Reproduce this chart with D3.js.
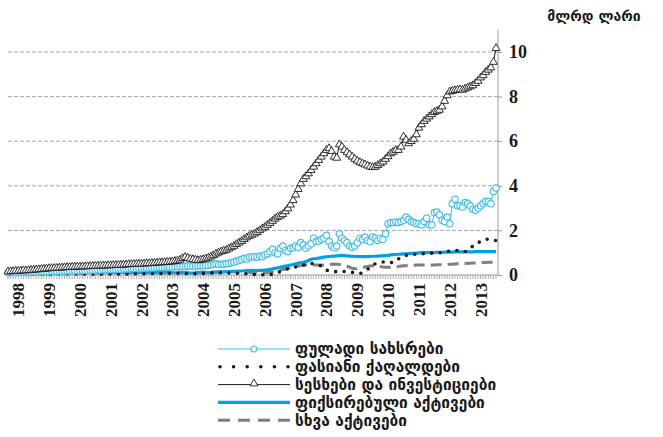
<!DOCTYPE html>
<html><head><meta charset="utf-8">
<script src="https://cdn.jsdelivr.net/npm/d3@7"></script>
<style>body{margin:0;background:#fff}</style>
</head><body><svg id="c" width="663" height="437"></svg>
<script>
const yearLabels = ["1998","1999","2000","2001","2002","2003","2004","2005","2006","2007","2008","2009","2010","2011","2012","2013"];
const yTicks = [0,2,4,6,8,10];
const unitLabel = "მლრდ ლარი";
const seriesNames = ["ფულადი სახსრები","ფასიანი ქაღალდები","სესხები და ინვესტიციები","ფიქსირებული აქტივები","სხვა აქტივები"];

// monthly values, Jan 1998 onward (billion GEL)
const cash = [
0.1,0.1,0.11,0.11,0.12,0.12,0.12,0.13,0.13,0.13,0.14,0.14,
0.14,0.15,0.15,0.15,0.16,0.16,0.16,0.17,0.17,0.17,0.18,0.18,
0.18,0.19,0.19,0.19,0.2,0.2,0.2,0.21,0.21,0.22,0.22,0.23,
0.22,0.23,0.23,0.24,0.24,0.25,0.25,0.26,0.26,0.27,0.27,0.28,
0.28,0.29,0.29,0.3,0.3,0.31,0.31,0.32,0.32,0.33,0.34,0.35,
0.34,0.35,0.35,0.36,0.36,0.37,0.37,0.38,0.38,0.39,0.4,0.41,
0.4,0.4,0.41,0.41,0.42,0.43,0.44,0.46,0.48,0.5,0.47,0.48,
0.48,0.5,0.52,0.55,0.58,0.62,0.66,0.7,0.75,0.72,0.8,0.82,
0.82,0.8,0.85,0.82,0.9,0.95,1.05,1.15,1.0,0.95,1.2,1.3,
1.1,1.05,1.2,1.22,1.3,1.25,1.45,1.35,1.2,1.3,1.4,1.65,
1.5,1.52,1.6,1.65,1.78,1.5,1.3,1.22,1.3,1.85,1.65,1.55,
1.45,1.3,1.25,1.3,1.45,1.65,1.6,1.7,1.55,1.5,1.7,1.65,
1.55,1.65,1.6,1.85,2.3,2.35,2.35,2.38,2.35,2.4,2.45,2.6,
2.5,2.4,2.35,2.3,2.3,2.25,2.4,2.55,2.25,2.25,2.8,2.82,
2.7,2.45,2.4,2.6,2.3,3.2,3.4,3.1,3.1,3.05,3.25,3.2,
3.1,2.95,2.9,3.0,3.1,3.2,3.3,3.3,3.2,3.75,3.9];
const securities = [
0.02,0.02,0.02,0.03,0.03,0.03,0.03,0.03,0.03,0.03,0.04,0.04,
0.04,0.04,0.04,0.04,0.04,0.04,0.05,0.05,0.05,0.05,0.05,0.05,
0.05,0.05,0.05,0.05,0.05,0.05,0.05,0.05,0.05,0.05,0.05,0.05,
0.05,0.05,0.05,0.05,0.05,0.05,0.05,0.05,0.05,0.05,0.05,0.05,
0.05,0.05,0.06,0.06,0.06,0.06,0.06,0.06,0.07,0.07,0.07,0.07,
0.07,0.07,0.07,0.08,0.08,0.08,0.08,0.07,0.07,0.07,0.06,0.06,
0.06,0.06,0.06,0.07,0.07,0.08,0.08,0.09,0.1,0.1,0.1,0.1,
0.1,0.1,0.09,0.09,0.08,0.08,0.07,0.07,0.06,0.05,0.04,0.03,
0.02,0.01,0.01,0.01,0.0,0.01,0.02,0.04,0.08,0.12,0.15,0.2,
0.25,0.28,0.3,0.32,0.36,0.4,0.42,0.45,0.47,0.5,0.52,0.5,
0.48,0.45,0.4,0.3,0.22,0.18,0.16,0.15,0.15,0.14,0.15,0.16,
0.15,0.14,0.12,0.1,0.07,0.06,0.1,0.18,0.25,0.35,0.45,0.5,
0.52,0.55,0.58,0.6,0.6,0.57,0.55,0.62,0.72,0.8,0.85,0.88,
0.9,0.92,0.93,0.94,0.95,0.95,0.96,0.97,0.98,0.98,0.99,1.0,
1.0,1.0,1.02,1.05,1.08,1.1,1.1,1.1,1.08,1.05,1.05,1.1,
1.2,1.3,1.4,1.45,1.5,1.55,1.6,1.6,1.58,1.55,1.55];
const loans = [
0.15,0.16,0.17,0.18,0.18,0.19,0.2,0.2,0.21,0.22,0.23,0.24,
0.25,0.26,0.27,0.28,0.3,0.3,0.31,0.31,0.32,0.33,0.34,0.35,
0.35,0.36,0.36,0.37,0.37,0.38,0.38,0.39,0.39,0.4,0.4,0.41,
0.41,0.42,0.42,0.43,0.43,0.44,0.44,0.45,0.45,0.46,0.47,0.48,
0.48,0.49,0.49,0.5,0.5,0.51,0.52,0.52,0.53,0.54,0.55,0.56,
0.56,0.57,0.58,0.59,0.6,0.62,0.64,0.68,0.75,0.8,0.76,0.72,
0.7,0.68,0.66,0.67,0.7,0.73,0.77,0.82,0.88,0.95,1.0,1.05,
1.08,1.12,1.18,1.24,1.3,1.38,1.45,1.52,1.6,1.68,1.75,1.8,
1.85,1.92,2.0,2.08,2.15,2.24,2.33,2.42,2.52,2.6,2.65,2.72,
2.85,2.98,3.15,3.35,3.6,3.85,4.1,4.3,4.42,4.55,4.7,4.85,
5.0,5.15,5.3,5.45,5.6,5.68,5.55,5.3,5.25,5.85,5.75,5.6,
5.5,5.4,5.3,5.2,5.12,5.05,5.0,4.95,4.9,4.85,4.83,4.85,
4.92,5.0,5.08,5.2,5.32,5.45,5.52,5.6,5.6,5.75,6.2,6.05,
5.9,6.0,6.1,6.3,6.6,6.75,6.9,7.0,7.1,7.2,7.3,7.35,
7.4,7.55,7.8,8.05,8.22,8.25,8.28,8.3,8.32,8.3,8.35,8.4,
8.45,8.5,8.6,8.7,8.85,8.95,9.1,9.2,9.3,9.55,10.17];
const fixedAssets = [
0.08,0.08,0.08,0.09,0.09,0.09,0.09,0.1,0.1,0.1,0.1,0.1,
0.1,0.1,0.1,0.1,0.11,0.11,0.11,0.11,0.11,0.11,0.11,0.12,
0.12,0.12,0.12,0.12,0.12,0.12,0.12,0.12,0.12,0.12,0.12,0.12,
0.12,0.12,0.12,0.12,0.12,0.12,0.12,0.12,0.12,0.12,0.12,0.12,
0.12,0.12,0.12,0.12,0.12,0.11,0.11,0.11,0.11,0.11,0.11,0.11,
0.11,0.1,0.1,0.1,0.1,0.1,0.1,0.1,0.1,0.09,0.09,0.09,
0.09,0.09,0.09,0.1,0.1,0.1,0.11,0.11,0.12,0.12,0.13,0.14,
0.14,0.15,0.15,0.16,0.16,0.17,0.18,0.18,0.19,0.2,0.2,0.21,
0.2,0.2,0.21,0.21,0.22,0.23,0.25,0.28,0.3,0.32,0.35,0.38,
0.4,0.42,0.45,0.47,0.5,0.53,0.55,0.57,0.6,0.65,0.7,0.73,
0.74,0.76,0.78,0.8,0.82,0.83,0.84,0.85,0.86,0.87,0.88,0.87,
0.86,0.85,0.84,0.83,0.83,0.82,0.82,0.82,0.83,0.83,0.84,0.84,
0.85,0.86,0.86,0.87,0.88,0.9,0.91,0.92,0.93,0.94,0.95,0.95,
0.96,0.97,0.97,0.98,0.99,1.0,1.0,1.0,1.0,1.01,1.01,1.02,
1.02,1.02,1.03,1.03,1.03,1.03,1.04,1.04,1.04,1.04,1.04,1.04,
1.04,1.04,1.05,1.05,1.05,1.05,1.05,1.05,1.05,1.05,1.05];
const otherAssets = [
0.03,0.03,0.03,0.03,0.04,0.04,0.04,0.04,0.04,0.05,0.05,0.05,
0.05,0.05,0.06,0.06,0.06,0.06,0.06,0.07,0.07,0.07,0.07,0.07,
0.07,0.08,0.08,0.08,0.08,0.08,0.08,0.09,0.09,0.09,0.09,0.09,
0.09,0.09,0.1,0.1,0.1,0.1,0.1,0.1,0.1,0.1,0.1,0.1,
0.1,0.1,0.1,0.1,0.1,0.11,0.11,0.11,0.11,0.11,0.11,0.11,
0.11,0.11,0.11,0.12,0.12,0.12,0.12,0.12,0.12,0.12,0.12,0.12,
0.12,0.12,0.12,0.12,0.13,0.13,0.13,0.14,0.14,0.15,0.15,0.15,
0.15,0.15,0.16,0.16,0.16,0.16,0.15,0.15,0.14,0.13,0.12,0.11,
0.1,0.1,0.1,0.1,0.1,0.11,0.13,0.15,0.18,0.2,0.22,0.25,
0.27,0.3,0.33,0.35,0.38,0.4,0.42,0.44,0.45,0.46,0.46,0.45,
0.45,0.45,0.44,0.45,0.46,0.47,0.48,0.48,0.48,0.47,0.46,0.44,
0.4,0.35,0.3,0.28,0.28,0.3,0.33,0.36,0.38,0.4,0.42,0.42,
0.4,0.38,0.36,0.35,0.35,0.35,0.35,0.36,0.38,0.4,0.41,0.42,
0.43,0.44,0.44,0.45,0.45,0.45,0.45,0.45,0.45,0.45,0.45,0.46,
0.46,0.46,0.47,0.47,0.48,0.48,0.49,0.5,0.5,0.51,0.52,0.53,
0.53,0.54,0.54,0.55,0.55,0.56,0.56,0.57,0.57,0.57,0.57];

const svg = d3.select("#c");
const N = loans.length;
const x = d3.scaleLinear().domain([0, N-1]).range([8, 496]);
const y = d3.scaleLinear().domain([0, 10]).range([275, 52]);
const X0 = 8, X1 = 498;

const cCash = "#45bfee", cFixed = "#00a2e3", cOther = "#7f7f7f", cBlack = "#1a1a1a";

// gridlines
svg.append("g").selectAll("line").data(yTicks.filter(d=>d>0)).join("line")
  .attr("x1", X0).attr("x2", X1).attr("y1", d=>y(d)).attr("y2", d=>y(d))
  .attr("stroke", "#a6a6a6").attr("stroke-width", 1).attr("stroke-dasharray", "4,2");

// right axis
const ya = svg.append("g").attr("transform", `translate(${X1},0)`)
  .call(d3.axisRight(y).tickValues(yTicks).tickSize(4).tickPadding(7).tickFormat(d3.format("d")));
ya.select(".domain").remove();
ya.selectAll(".tick line").attr("stroke", "#999");
ya.selectAll("text").attr("font-family", "Liberation Serif").attr("font-weight", "bold").attr("font-size", 18).attr("fill", "#1a1a1a");
svg.append("line").attr("x1", X1).attr("x2", X1).attr("y1", 30).attr("y2", 275).attr("stroke", "#999");

// bottom axis
svg.append("line").attr("x1", X0 - 2).attr("x2", X1).attr("y1", 275).attr("y2", 275).attr("stroke", "#999");
svg.append("g").selectAll("line").data(d3.range(N)).join("line")
  .attr("x1", d=>x(d)).attr("x2", d=>x(d)).attr("y1", 275).attr("y2", 279)
  .attr("stroke", "#999").attr("stroke-width", 0.8);
svg.append("g").selectAll("text").data(yearLabels).join("text")
  .attr("transform", (d,i)=>`translate(${x(12*i+4)},283) rotate(-90)`)
  .attr("text-anchor", "end").attr("dy", "0.35em")
  .attr("font-family", "Liberation Serif").attr("font-weight", "bold").attr("font-size", 17)
  .attr("fill", "#1a1a1a").text(d=>d);

// unit label
svg.append("text").attr("x", 594).attr("y", 21).attr("text-anchor", "middle")
  .attr("font-family", "DejaVu Sans").attr("font-weight", "bold").attr("font-size", 14)
  .attr("fill", "#1a1a1a").text(unitLabel);

const line = d3.line().x((d,i)=>x(i)).y(d=>y(d));

// other assets
svg.append("path").datum(otherAssets).attr("d", line).attr("fill", "none")
  .attr("stroke", cOther).attr("stroke-width", 3).attr("stroke-dasharray", "11,6");
// fixed assets
svg.append("path").datum(fixedAssets).attr("d", line).attr("fill", "none")
  .attr("stroke", cFixed).attr("stroke-width", 3.2);
// securities (dotted)
svg.append("path").datum(securities).attr("d", line).attr("fill", "none")
  .attr("stroke", cBlack).attr("stroke-width", 3.6).attr("stroke-linecap", "round").attr("stroke-dasharray", "0,8.5");
// cash
svg.append("path").datum(cash).attr("d", line).attr("fill", "none").attr("stroke", cCash).attr("stroke-width", 1);
svg.append("g").selectAll("circle").data(cash).join("circle")
  .attr("cx", (d,i)=>x(i)).attr("cy", d=>y(d)).attr("r", 3.2)
  .attr("fill", "#fff").attr("stroke", cCash).attr("stroke-width", 1.2);
// loans
svg.append("path").datum(loans).attr("d", line).attr("fill", "none").attr("stroke", cBlack).attr("stroke-width", 1);
const tri = d3.symbol().type(d3.symbolTriangle).size(27);
svg.append("g").selectAll("path").data(loans).join("path")
  .attr("transform", (d,i)=>`translate(${x(i)},${y(d)})`).attr("d", tri)
  .attr("fill", "#fff").attr("stroke", cBlack).attr("stroke-width", 0.9);

// legend
const lg = svg.append("g").attr("transform", "translate(218,349)");
const rowH = 17.8;
seriesNames.forEach((name, i) => {
  const g = lg.append("g").attr("transform", `translate(0,${i*rowH})`);
  const ln = g.append("line").attr("x1", 0).attr("x2", 72).attr("y1", 0).attr("y2", 0);
  if (i === 0) {
    ln.attr("stroke", cCash).attr("stroke-width", 1);
    g.append("circle").attr("cx", 36).attr("cy", 0).attr("r", 3).attr("fill", "#fff").attr("stroke", cCash).attr("stroke-width", 1.2);
  } else if (i === 1) {
    ln.attr("x1", 2).attr("stroke", cBlack).attr("stroke-width", 3.6).attr("stroke-linecap", "round").attr("stroke-dasharray", "0,13.6");
  } else if (i === 2) {
    ln.attr("stroke", cBlack).attr("stroke-width", 1);
    g.append("path").attr("transform", "translate(36,-1)").attr("d", tri).attr("fill", "#fff").attr("stroke", cBlack).attr("stroke-width", 0.9);
  } else if (i === 3) {
    ln.attr("stroke", cFixed).attr("stroke-width", 3.2);
  } else {
    ln.attr("stroke", cOther).attr("stroke-width", 3).attr("stroke-dasharray", "12,8");
  }
  g.append("text").attr("x", 77).attr("y", 0).attr("dy", "0.35em")
    .attr("font-family", "DejaVu Sans").attr("font-weight", "bold").attr("font-size", 15.5)
    .attr("fill", "#1a1a1a").text(name);
});
</script></body></html>
